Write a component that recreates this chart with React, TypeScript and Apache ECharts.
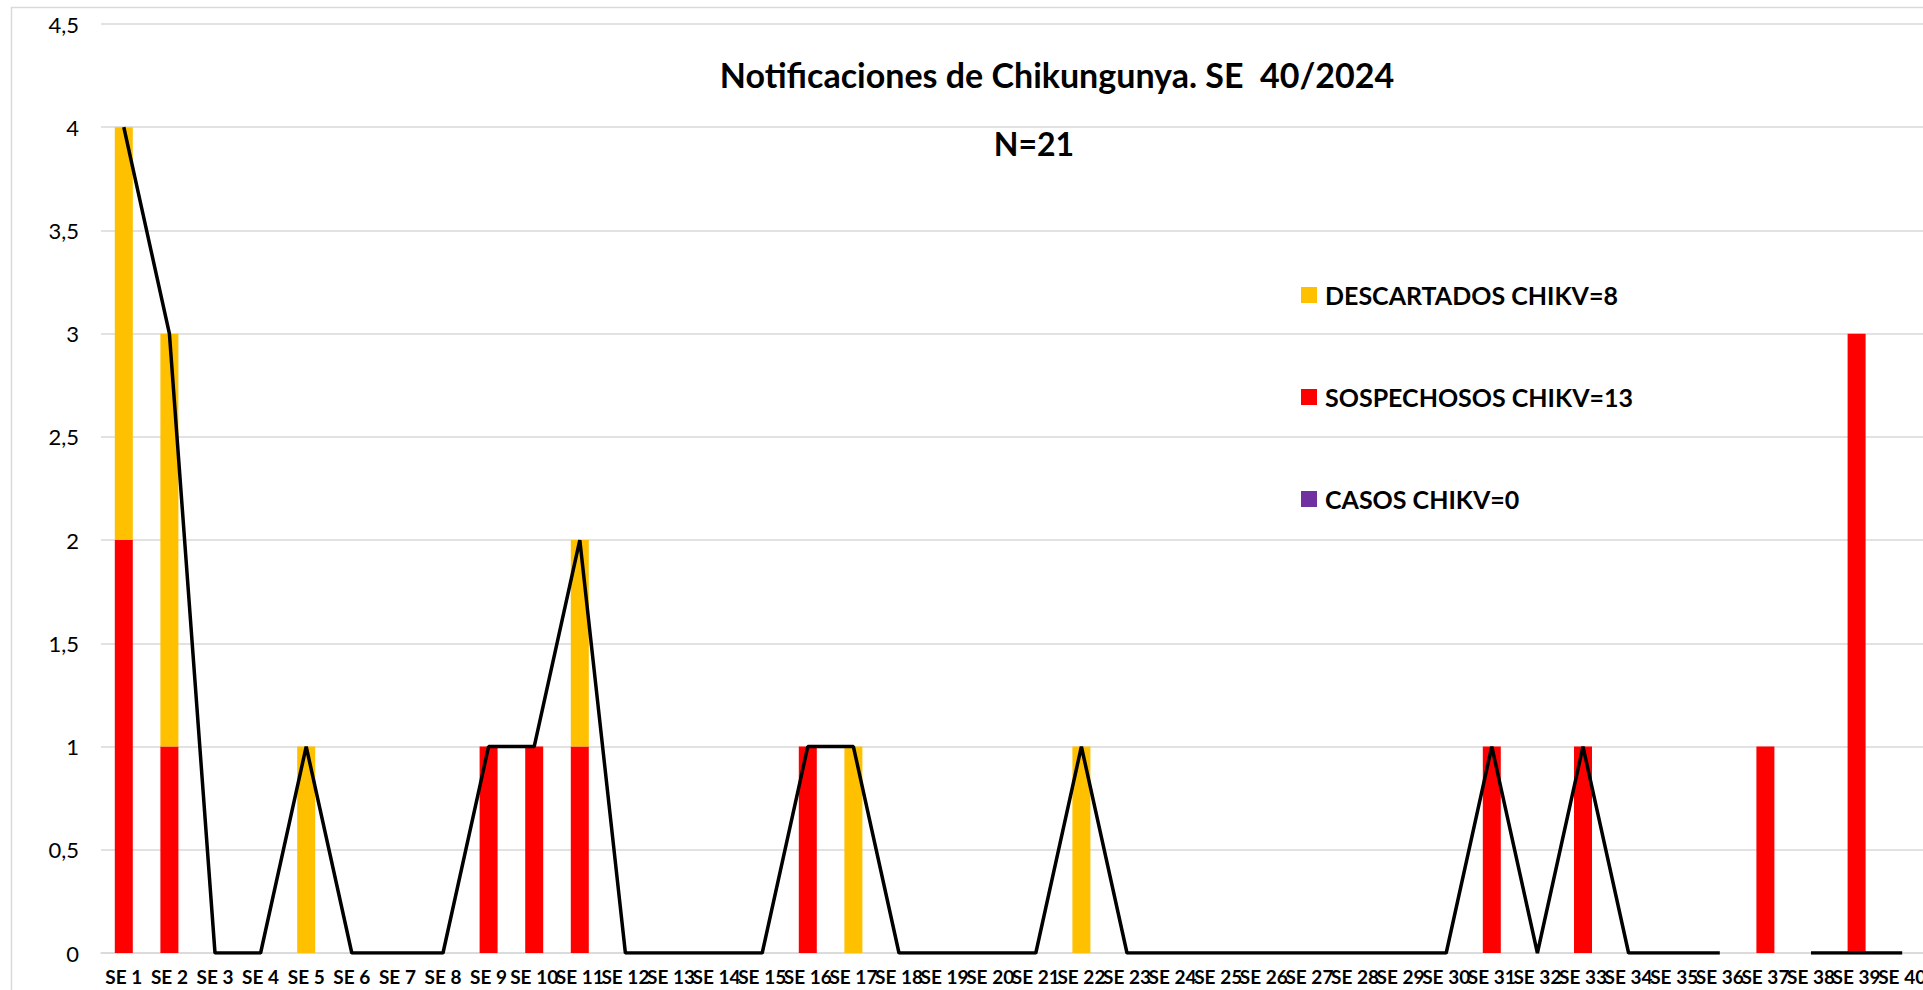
import React, { useEffect, useRef } from "react";
import * as echarts from "echarts";

const categories: string[] = Array.from({ length: 40 }, (_, i) => `SE ${i + 1}`);

// SOSPECHOSOS CHIKV (red)
const sospechosos: number[] = [
  2, 1, 0, 0, 0, 0, 0, 0, 1, 1,
  1, 0, 0, 0, 0, 1, 0, 0, 0, 0,
  0, 0, 0, 0, 0, 0, 0, 0, 0, 0,
  1, 0, 1, 0, 0, 0, 1, 0, 3, 0,
];
// DESCARTADOS CHIKV (yellow)
const descartados: number[] = [
  2, 2, 0, 0, 1, 0, 0, 0, 0, 0,
  1, 0, 0, 0, 0, 0, 1, 0, 0, 0,
  0, 1, 0, 0, 0, 0, 0, 0, 0, 0,
  0, 0, 0, 0, 0, 0, 0, 0, 0, 0,
];
// CASOS CHIKV (purple)
const casos: number[] = [
  0, 0, 0, 0, 0, 0, 0, 0, 0, 0,
  0, 0, 0, 0, 0, 0, 0, 0, 0, 0,
  0, 0, 0, 0, 0, 0, 0, 0, 0, 0,
  0, 0, 0, 0, 0, 0, 0, 0, 0, 0,
];
// Black line (total notifications as plotted)
const totalLine: (number | null)[] = [
  4, 3, 0, 0, 1, 0, 0, 0, 1, 1,
  2, 0, 0, 0, 0, 1, 1, 0, 0, 0,
  0, 1, 0, 0, 0, 0, 0, 0, 0, 0,
  1, 0, 1, 0, 0, 0, null, 0, 0, 0,
];

const yTicks = { min: 0, max: 4.5, interval: 0.5 };

const FONT = "Lato";

export default function App() {
  const ref = useRef<HTMLDivElement>(null);
  useEffect(() => {
    if (!ref.current) return;
    const chart = echarts.init(ref.current, null, { renderer: "svg" });
    chart.setOption({
      animation: false,
      backgroundColor: "#ffffff",
      textStyle: { fontFamily: FONT },
      title: [
        {
          text: "Notificaciones de Chikungunya. SE  40/2024",
          left: 1052,
          top: 52,
          textAlign: "center",
          textStyle: { fontFamily: FONT, fontWeight: "bold", fontSize: 34, color: "#000" },
        },
        {
          text: "N=21",
          left: 1029,
          top: 122,
          textAlign: "center",
          textStyle: { fontFamily: FONT, fontWeight: "bold", fontSize: 32, color: "#000" },
        },
      ],
      legend: {
        orient: "vertical",
        left: 1296,
        top: 275,
        itemWidth: 16,
        itemHeight: 16,
        itemGap: 72,
        icon: "rect",
        data: ["DESCARTADOS CHIKV=8", "SOSPECHOSOS CHIKV=13", "CASOS CHIKV=0"],
        textStyle: {
          fontFamily: FONT,
          fontWeight: "bold",
          fontSize: 25,
          color: "#000",
          lineHeight: 30,
          padding: [0, 0, 0, 3],
        },
      },
      graphic: [
        {
          type: "rect",
          shape: { x: 11.5, y: 7.5, width: 2000, height: 1000 },
          style: { fill: "none", stroke: "#d9d9d9", lineWidth: 1.5 },
          silent: true,
        },
      ],
      grid: { left: 101, top: 24, width: 1824, bottom: 37 },
      xAxis: {
        type: "category",
        data: categories,
        axisLine: { lineStyle: { color: "#d9d9d9", width: 1.5 } },
        axisTick: { show: false },
        axisLabel: {
          interval: 0,
          hideOverlap: false,
          fontFamily: FONT,
          fontWeight: "bold",
          fontSize: 19,
          color: "#000",
          margin: 14,
        },
      },
      yAxis: {
        type: "value",
        min: yTicks.min,
        max: yTicks.max,
        interval: yTicks.interval,
        axisLine: { show: false },
        axisTick: { show: false },
        splitLine: { lineStyle: { color: "#d9d9d9", width: 1.5 } },
        axisLabel: {
          fontFamily: FONT,
          fontSize: 22,
          color: "#000",
          margin: 22,
          formatter: (v: number) => String(v).replace(".", ","),
        },
      },
      series: [
        {
          name: "SOSPECHOSOS CHIKV=13",
          type: "bar",
          stack: "total",
          data: sospechosos,
          barWidth: 18,
          itemStyle: { color: "#FF0000" },
        },
        {
          name: "DESCARTADOS CHIKV=8",
          type: "bar",
          stack: "total",
          data: descartados,
          barWidth: 18,
          itemStyle: { color: "#FFC000" },
        },
        {
          name: "CASOS CHIKV=0",
          type: "bar",
          stack: "total",
          data: casos,
          barWidth: 18,
          itemStyle: { color: "#7030A0" },
        },
        {
          name: "Total",
          type: "line",
          data: totalLine,
          showSymbol: false,
          symbol: "none",
          connectNulls: false,
          lineStyle: { color: "#000", width: 3.5 },
          z: 5,
        },
      ],
    });
    return () => chart.dispose();
  }, []);
  return (
    <div style={{ position: "fixed", left: 0, top: 0, width: 1923, height: 990, overflow: "hidden", background: "#fff" }}>
      <div ref={ref} style={{ width: 1930, height: 990 }} />
    </div>
  );
}
